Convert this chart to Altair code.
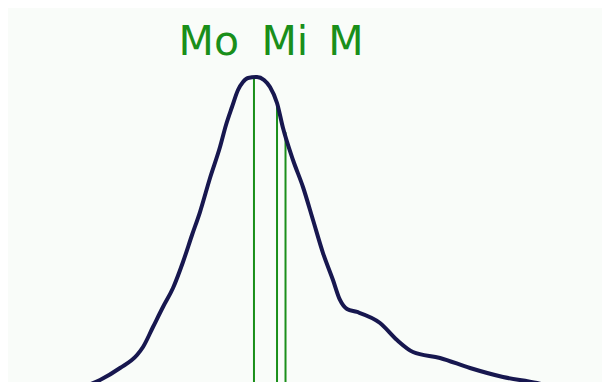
import altair as alt
import pandas as pd

# Density curve (arbitrary units)
curve_x = [12.12, 15.49, 18.86, 21.72, 22.73, 24.41, 26.09, 27.78, 29.46, 30.98,
           32.32, 34.01, 35.69, 36.70, 37.71, 38.72, 39.56, 40.40, 41.92, 43.10,
           44.11, 45.29, 46.30, 47.98, 49.66, 51.35, 53.03, 54.71, 55.89, 57.07,
           58.75, 62.63, 65.49, 68.18, 72.73, 77.78, 83.33, 89.06, 93.43, 95.45]
curve_y = [-1.6, 0.53, 3.74, 7.22, 9.36, 14.71, 20.05, 25.13, 32.09, 39.30,
           45.45, 54.55, 62.83, 68.72, 73.53, 78.07, 80.21, 81.28, 81.55, 80.75,
           78.88, 74.60, 67.91, 59.36, 52.14, 43.32, 34.49, 27.27, 21.93, 19.52,
           18.72, 15.78, 11.23, 8.02, 6.42, 3.74, 1.34, -0.27, -2.14, -2.94]

# Mode, median, mean
stat_names = ["Mo", "Mi", "M"]
stat_x = [41.41, 45.29, 46.72]
stat_top = [81.3, 74.6, 66.8]
label_x = [33.8, 46.6, 56.9]
label_y = [87.4, 87.4, 87.4]

curve_df = pd.DataFrame({"x": curve_x, "y": curve_y})
stat_df = pd.DataFrame({"name": stat_names, "x": stat_x, "top": stat_top,
                        "bottom": [-5, -5, -5]})
label_df = pd.DataFrame({"name": stat_names, "x": label_x, "y": label_y})

xs = alt.Scale(domain=[0, 100], nice=False, zero=False)
ys = alt.Scale(domain=[0, 100], nice=False, zero=False)

green = "#1a8f1a"

curve = alt.Chart(curve_df).mark_line(
    color="#17174f", strokeWidth=4, clip=True, interpolate="monotone",
    strokeJoin="round", strokeCap="round"
).encode(
    x=alt.X("x:Q", scale=xs, axis=None),
    y=alt.Y("y:Q", scale=ys, axis=None),
    order=alt.Order("x:Q"),
)

rules = alt.Chart(stat_df).mark_rule(color=green, strokeWidth=2, clip=True).encode(
    x=alt.X("x:Q", scale=xs, axis=None),
    y=alt.Y("top:Q", scale=ys, axis=None),
    y2="bottom:Q",
)

labels = alt.Chart(label_df).mark_text(
    color=green, font="DejaVu Sans", fontSize=41, align="center",
    baseline="alphabetic"
).encode(
    x=alt.X("x:Q", scale=xs, axis=None),
    y=alt.Y("y:Q", scale=ys, axis=None),
    text="name:N",
)

chart = alt.layer(rules, curve, labels).properties(
    width=594, height=374, padding=0, autosize=alt.AutoSizeParams(type="none"),
    background="#f9fcf9",
).configure_view(stroke=None, fill="#f9fcf9")

chart.save("out.html", embed_options={"renderer": "svg", "actions": False})
